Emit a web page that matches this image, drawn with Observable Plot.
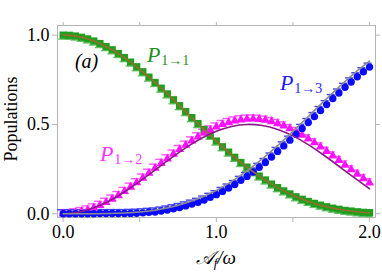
<!DOCTYPE html>
<html><head><meta charset="utf-8">
<script src="https://cdn.jsdelivr.net/npm/d3@7"></script>
<script src="https://cdn.jsdelivr.net/npm/@observablehq/plot@0.6"></script>
<style>
html,body{margin:0;padding:0;background:#fff;}
#chart{width:382px;height:273px;}
</style></head><body><div id="chart"></div>
<script>
// marker grid (numerical data)
const xMarkers = [0,0.04,0.08,0.12,0.16,0.2,0.24,0.28,0.32,0.36,0.4,0.44,0.48,0.52,0.56,0.6,0.64,0.68,0.72,0.76,0.8,0.84,0.88,0.92,0.96,1.0,1.04,1.08,1.12,1.16,1.2,1.24,1.28,1.32,1.36,1.4,1.44,1.48,1.52,1.56,1.6,1.64,1.68,1.72,1.76,1.8,1.84,1.88,1.92,1.96,2.0];
const p11Markers = [1.000,0.999,0.995,0.988,0.979,0.967,0.953,0.936,0.918,0.897,0.874,0.849,0.823,0.795,0.765,0.735,0.703,0.671,0.638,0.605,0.572,0.538,0.505,0.472,0.439,0.407,0.375,0.345,0.316,0.287,0.261,0.235,0.211,0.189,0.166,0.146,0.128,0.111,0.095,0.081,0.069,0.058,0.048,0.039,0.031,0.025,0.019,0.015,0.011,0.008,0.006];
const p12Markers = [0.000,0.001,0.005,0.012,0.021,0.033,0.047,0.064,0.082,0.102,0.125,0.149,0.174,0.200,0.227,0.255,0.282,0.308,0.334,0.360,0.384,0.408,0.431,0.451,0.469,0.486,0.500,0.511,0.520,0.526,0.530,0.531,0.529,0.524,0.516,0.505,0.492,0.477,0.460,0.441,0.420,0.398,0.374,0.350,0.324,0.299,0.273,0.247,0.222,0.197,0.173];
const p13Markers = [0.000,0.000,0.000,0.000,0.000,0.000,0.001,0.001,0.001,0.001,0.001,0.002,0.003,0.005,0.008,0.010,0.015,0.021,0.028,0.035,0.044,0.054,0.064,0.077,0.092,0.107,0.125,0.144,0.164,0.187,0.209,0.234,0.260,0.287,0.318,0.349,0.380,0.412,0.445,0.478,0.511,0.544,0.578,0.611,0.645,0.676,0.708,0.738,0.767,0.795,0.821];
// analytic curves
const xLines = [0,0.1,0.2,0.3,0.4,0.5,0.6,0.7,0.8,0.9,1.0,1.1,1.2,1.3,1.4,1.5,1.6,1.7,1.8,1.9,2.0];
const p11Line = [1.000,0.992,0.967,0.927,0.874,0.809,0.735,0.655,0.572,0.488,0.407,0.330,0.261,0.199,0.146,0.103,0.069,0.043,0.025,0.013,0.006];
const p12Line = [0.000,0.008,0.033,0.071,0.122,0.181,0.245,0.309,0.369,0.421,0.462,0.489,0.500,0.494,0.472,0.436,0.387,0.329,0.266,0.202,0.140];
const p13Line = [0.000,0.000,0.000,0.001,0.004,0.010,0.020,0.036,0.060,0.091,0.131,0.181,0.240,0.307,0.381,0.461,0.544,0.628,0.709,0.786,0.854];
// ticks
const xTicks = [0,0.5,1,1.5,2];
const xTickLabels = ["0.0","","1.0","","2.0"];
const yTicks = [0,0.5,1];
const yTickLabels = ["0.0","0.5","1.0"];
// annotation labels (data coordinates)
const seriesNames = ["1→1","1→2","1→3"];
const labelX = [0.55,0.243,1.418];
const labelY = [0.847,0.293,0.690];
const labelColors = ["#1f8f1f","#ff33ff","#1f1fff"];

const xLab = new Map(xTicks.map((t,i)=>[t,xTickLabels[i]]));
const yLab = new Map(yTicks.map((t,i)=>[t,yTickLabels[i]]));
const mk = (ys) => xMarkers.map((x,i)=>({x, y: ys[i]}));
const ln = (ys) => xLines.map((x,i)=>({x, y: ys[i]}));
const dash = {draw(ctx, size){const w = Math.sqrt(size)/2; ctx.moveTo(-w,0); ctx.lineTo(w,0);}};
const grey = "#b4b4b4";
const serif = "Liberation Serif, Times New Roman, serif";

const plot = Plot.plot({
  width: 382, height: 273,
  marginLeft: 57, marginRight: 7, marginTop: 25, marginBottom: 56,
  x: {domain: [-0.037, 2.039]},
  y: {domain: [-0.021, 1.054]},
  style: {fontFamily: serif, fontSize: "18px", color: "black", background: "white"},
  marks: [
    Plot.frame({stroke: grey}),
    Plot.axisX({anchor: "bottom", ticks: xTicks, tickFormat: d => xLab.get(d), tickSize: 5, tickPadding: 3, stroke: grey, fill: "black", fontSize: 18, label: null}),
    Plot.axisX({anchor: "top", ticks: xTicks, tickFormat: () => "", tickSize: 4, stroke: grey, label: null}),
    Plot.axisY({anchor: "left", ticks: yTicks, tickFormat: d => yLab.get(d), tickSize: 5, tickPadding: 3, stroke: grey, fill: "black", fontSize: 18, label: null}),
    Plot.axisY({anchor: "right", ticks: yTicks, tickFormat: () => "", tickSize: 4, stroke: grey, label: null}),
    // offset dashes
    Plot.dot(mk(p11Markers), {x: "x", y: "y", symbol: dash, r: 4.5, stroke: "#6cc06c", strokeWidth: 1.4, dx: -1, dy: 4}),
    Plot.dot(mk(p12Markers), {x: "x", y: "y", symbol: dash, r: 4.5, stroke: "#ff55ff", strokeWidth: 1.4, dx: -2, dy: -4}),
    Plot.dot(mk(p13Markers), {x: "x", y: "y", symbol: dash, r: 4.5, stroke: "#4040ff", strokeWidth: 1.4, dx: -2, dy: -4}),
    // markers
    Plot.dot(mk(p11Markers), {x: "x", y: "y", symbol: "square", r: 4.1, fill: "#1ea01e", stroke: "none"}),
    Plot.dot(mk(p12Markers), {x: "x", y: "y", symbol: "triangle", r: 3.4, fill: "#ff11ff", stroke: "none"}),
    Plot.dot(mk(p13Markers), {x: "x", y: "y", symbol: "circle", r: 3.7, fill: "#0a0aff", stroke: "none"}),
    // analytic lines
    Plot.line(ln(p11Line), {x: "x", y: "y", stroke: "#a0692e", strokeWidth: 1.6, curve: "natural"}),
    Plot.line(ln(p12Line), {x: "x", y: "y", stroke: "#8b1a8b", strokeWidth: 1.6, curve: "natural"}),
    Plot.line(ln(p13Line), {x: "x", y: "y", stroke: "#8c8c8c", strokeWidth: 1.6, curve: "natural"})
  ]
});
document.getElementById("chart").appendChild(plot);

const svg = d3.select(plot);
const sx = plot.scale("x"), sy = plot.scale("y");
// series labels
seriesNames.forEach((name,i)=>{
  const t = svg.append("text").attr("x", sx.apply(labelX[i])).attr("y", sy.apply(labelY[i]))
    .attr("text-anchor","start").attr("fill", labelColors[i]).attr("font-family", serif);
  t.append("tspan").attr("font-style","italic").attr("font-size", 22).text("P");
  t.append("tspan").attr("font-size", 14).attr("dy", 3).attr("dx", 1).text(name);
});
// panel label
svg.append("text").attr("x", sx.apply(0.08)).attr("y", sy.apply(0.813)).attr("text-anchor","start")
  .attr("font-family", serif).attr("font-size", 20).attr("font-style","italic").text("(a)");
// axis titles
svg.append("text").attr("transform", "translate(17,119) rotate(-90)").attr("text-anchor","middle")
  .attr("font-family", serif).attr("font-size", 18).text("Populations");
const xt = svg.append("text").attr("x", sx.apply(1.0)).attr("y", 264).attr("text-anchor","middle")
  .attr("font-family", serif).attr("font-size", 19).attr("font-style","italic");
xt.append("tspan").text("𝒜");
xt.append("tspan").attr("font-size", 13).attr("dy", 3).text("f");
xt.append("tspan").attr("dy", -3).text("/ω");
</script></body></html>
